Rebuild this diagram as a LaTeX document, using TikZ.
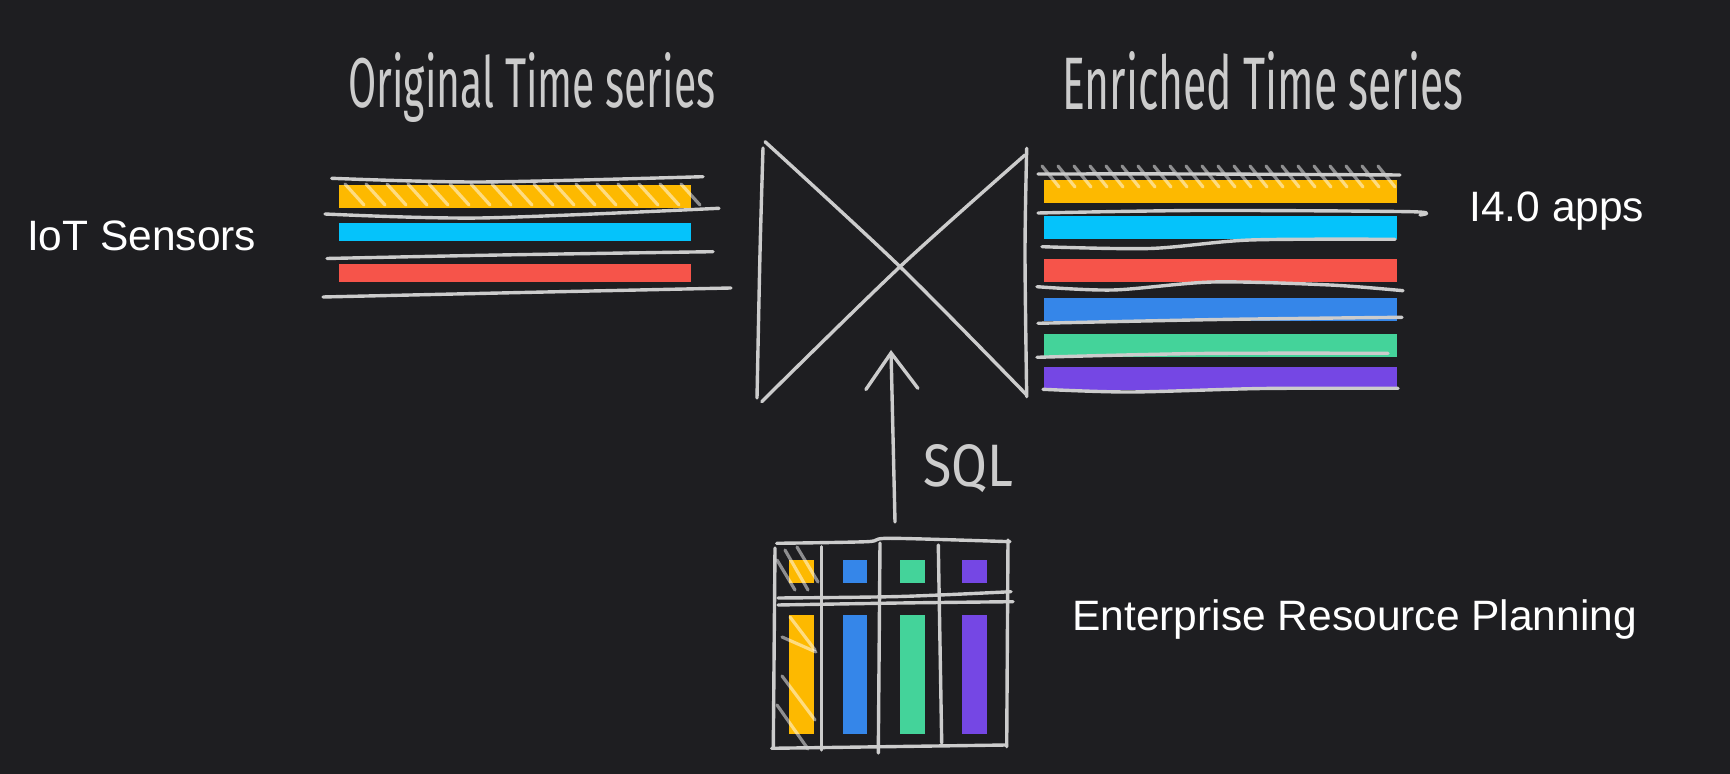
\documentclass[tikz,border=0pt]{standalone}
\usepackage{fontspec}
\setmainfont{Liberation Sans}
\newfontfamily\handfont{Fira Sans}
\usetikzlibrary{arrows.meta}
\definecolor{bgc}{HTML}{1E1E21}
\definecolor{handgrey}{HTML}{CCCCCC}
\definecolor{corange}{HTML}{FDB900}
\definecolor{ccyan}{HTML}{05C3FB}
\definecolor{cred}{HTML}{F6544A}
\definecolor{cblue}{HTML}{3586E9}
\definecolor{cgreen}{HTML}{44D39A}
\definecolor{cpurple}{HTML}{7547E4}
\tikzset{
  hand/.style={draw=handgrey, line width=1.7pt, line cap=round, line join=round},
  hatchline/.style={draw=white, draw opacity=0.5, line width=1.6pt, line cap=round},
  lbl/.style={text=white, inner sep=0pt, anchor=base west, font=\fontsize{21.25pt}{25pt}\selectfont},
  handtxt/.style={text=handgrey, inner sep=0pt, anchor=base west},
}
\begin{document}
\begin{tikzpicture}[x=0.5pt, y=-0.5pt]
\fill[bgc] (0,0) rectangle (1730,774);
\useasboundingbox (0,0) rectangle (1730,774);

% labels
\node[lbl] (iot) at (26.7,251) {IoT Sensors};
\node[lbl] (apps) at (1469,222) {I4.0 apps};
\node[lbl] (erp) at (1072,631) {Enterprise Resource Planning};

% handwritten titles
\node[handtxt] (origtitle) at (348,108) {\resizebox{183.5pt}{27.5pt}{\handfont Original Time series}};
\node[handtxt] (enrtitle) at (1062,110) {\resizebox{200.5pt}{29pt}{\handfont Enriched Time series}};
\node[handtxt] (sql) at (923,487) {\resizebox{45pt}{21pt}{\handfont SQL}};

% original time series bars
\fill[corange] (338.7,185.3) rectangle (690.7,207.7);
\fill[ccyan] (338.7,223.3) rectangle (690.7,241);
\fill[cred] (338.7,264) rectangle (690.7,281.7);
\foreach \x in {345,366,...,685} \draw[hatchline] (\x,184) -- ++(19,21);
\draw[hand] plot[smooth] coordinates {(331.7,178.3) (480,182) (703,176.7)};
\draw[hand] plot[smooth] coordinates {(325,214) (480,218) (719,208.3)};
\draw[hand] plot[smooth] coordinates {(327,258.5) (500,255) (713,251.7)};
\draw[hand] plot[smooth] coordinates {(323,297) (500,293) (731,288)};

% enriched time series bars
\fill[corange] (1044,180) rectangle (1396.7,203);
\fill[ccyan] (1044,215.7) rectangle (1396.7,238.7);
\fill[cred] (1044,259) rectangle (1396.7,281.7);
\fill[cblue] (1044,298.3) rectangle (1396.7,321);
\fill[cgreen] (1044,333.7) rectangle (1396.7,356.7);
\fill[cpurple] (1044,367.3) rectangle (1396.7,390);
\foreach \x in {1042,1058,...,1378} \draw[hatchline] (\x,166) -- ++(17,21);
\draw[hand] plot[smooth] coordinates {(1038,174) (1200,174) (1400,175)};
\draw[hand] plot[smooth] coordinates {(1038,213) (1200,210.5) (1410,211.7) (1420,215)};
\draw[hand] plot[smooth] coordinates {(1042,246.7) (1150,248.5) (1250,240) (1395,239.3)};
\draw[hand] plot[smooth] coordinates {(1037,286.7) (1113,290) (1213,282) (1330,285) (1403,290.7)};
\draw[hand] plot[smooth] coordinates {(1038,323.3) (1220,319.5) (1402,317.3)};
\draw[hand] plot[smooth] coordinates {(1037,357.3) (1200,353.5) (1388,353.3)};
\draw[hand] plot[smooth] coordinates {(1043,389.3) (1130,392) (1263,388.5) (1398,388.3)};

% join (bowtie)
\coordinate (jointl) at (765,141.7);
\coordinate (joinbl) at (761.7,401.7);
\coordinate (jointr) at (1025,155);
\coordinate (joinbr) at (1026.7,395);
\draw[hand] plot[smooth] coordinates {(763,148) (760,253) (757,398)};
\draw[hand] plot[smooth] coordinates {(1026.7,148.3) (1025,253) (1026.7,396.7)};
\draw[hand] plot[smooth] coordinates {(jointl) (900,266.7) (joinbr)};
\draw[hand] plot[smooth] coordinates {(joinbl) (900,266.7) (jointr)};

% ERP table
\fill[corange] (789.3,560) rectangle (814,583.3);
\fill[cblue] (842.7,560) rectangle (867.3,583.3);
\fill[cgreen] (900,560) rectangle (925,583.3);
\fill[cpurple] (962,560) rectangle (987,583.3);
\fill[corange] (789.3,615) rectangle (814,734);
\fill[cblue] (842.7,615) rectangle (867.3,734);
\fill[cgreen] (900,615) rectangle (925,734);
\fill[cpurple] (962,615) rectangle (987,734);
\draw[hatchline] (777,560) -- (795,590);
\draw[hatchline] (785,550) -- (808,590);
\draw[hatchline] (797,547) -- (818,582);
\draw[hatchline] (790,617) -- (815,650);
\draw[hatchline] (782,637) -- (816,652);
\draw[hatchline] (782,676) -- (815,720);
\draw[hatchline] (777,705) -- (808,749);
\draw[hand] plot[smooth] coordinates {(776.7,543.3) (866.7,541.7) (890,538.3) (1010,541.7)};
\draw[hand] (775,548) -- (773.3,746.7);
\draw[hand] (1008,540) -- (1006.7,746.7);
\draw[hand] (771.7,748.3) -- (1006.7,745);
\draw[hand] plot[smooth] coordinates {(778,598) (900,596.5) (1011,591.7)};
\draw[hand] plot[smooth] coordinates {(778,605) (900,603) (1013,601.7)};
\draw[hand] (821.7,546.7) -- (821.7,750);
\draw[hand] (880,543) -- (878.3,753);
\draw[hand] (938.3,545) -- (941.7,743);

% SQL arrow
\coordinate (sqlstart) at (895,522);
\coordinate (sqlend) at (891,350);
\draw[hand, -{Straight Barb[length=18pt, width=26pt, line cap=round]}] (sqlstart) -- (sqlend);
\end{tikzpicture}
\end{document}
